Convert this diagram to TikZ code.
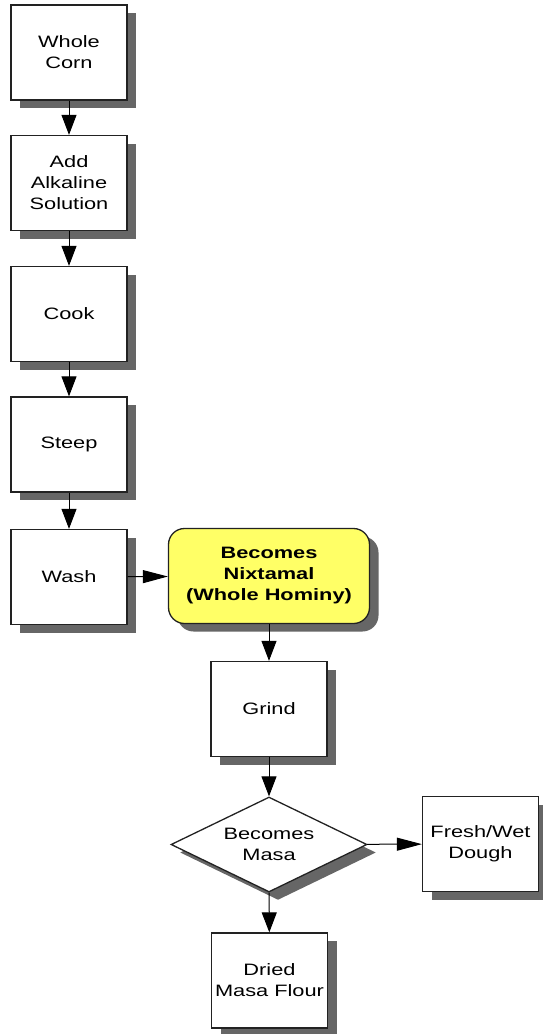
\documentclass[tikz,border=0pt]{standalone}
\usepackage{fontspec}
\setmainfont{Liberation Sans}[FakeStretch=1.32]
\usetikzlibrary{shapes.geometric,shadows,arrows.meta}
\definecolor{nixyellow}{HTML}{FFFF66}
\definecolor{edge}{HTML}{222222}
\newcommand\labelfont{\fontsize{16.5}{21}\selectfont}
\tikzset{
  shade/.style={drop shadow={shadow xshift=9pt, shadow yshift=-8pt, fill=black!60, opacity=1}},
  stepbox/.style={draw=edge, line width=1.3pt, fill=white, minimum width=116pt,
    minimum height=95pt, inner sep=0pt, align=center, font=\labelfont, shade},
  resultbox/.style={stepbox, fill=nixyellow, rounded corners=16pt, minimum width=201pt,
    font=\labelfont\bfseries},
  decision/.style={stepbox, shape=diamond, shape aspect=2, minimum width=196pt, minimum height=95pt},
  down/.style={draw=black, line width=1pt, -{Triangle[length=20pt,width=15pt]}},
  across/.style={draw=black, line width=1pt, -{Triangle[length=25pt,width=13pt]}}
}
\begin{document}
\begin{tikzpicture}[x=1pt,y=1pt]
\useasboundingbox (0,0) rectangle (543,-1034);
% main process column
\node[stepbox] (corn)  at (69,-52.5) {Whole\\Corn};
\node[stepbox] (alk)   at (69,-183)  {Add\\Alkaline\\Solution};
\node[stepbox] (cook)  at (69,-314)  {Cook};
\node[stepbox] (steep) at (69,-444.5) {Steep};
\node[stepbox] (wash)  at (69,-577)  {Wash};
% nixtamal and milling
\node[resultbox] (nix)   at (269,-576)  {Becomes\\Nixtamal\\(Whole Hominy)};
\node[stepbox]   (grind) at (269,-709)  {Grind};
\node[decision]  (masa)  at (269,-844.5) {Becomes\\Masa};
\node[stepbox]   (fresh) at (480.5,-844) {Fresh/Wet\\Dough};
\node[stepbox]   (dried) at (269.5,-980.5) {Dried\\Masa Flour};
% connectors
\draw[down] (corn) -- (alk);
\draw[down] (alk) -- (cook);
\draw[down] (cook) -- (steep);
\draw[down] (steep) -- (wash);
\draw[across] (wash) -- (nix);
\draw[down] (nix) -- (grind);
\draw[down] (grind) -- (masa);
\draw[across] (masa) -- (fresh);
\draw[down] (masa) -- (dried);
\end{tikzpicture}
\end{document}
